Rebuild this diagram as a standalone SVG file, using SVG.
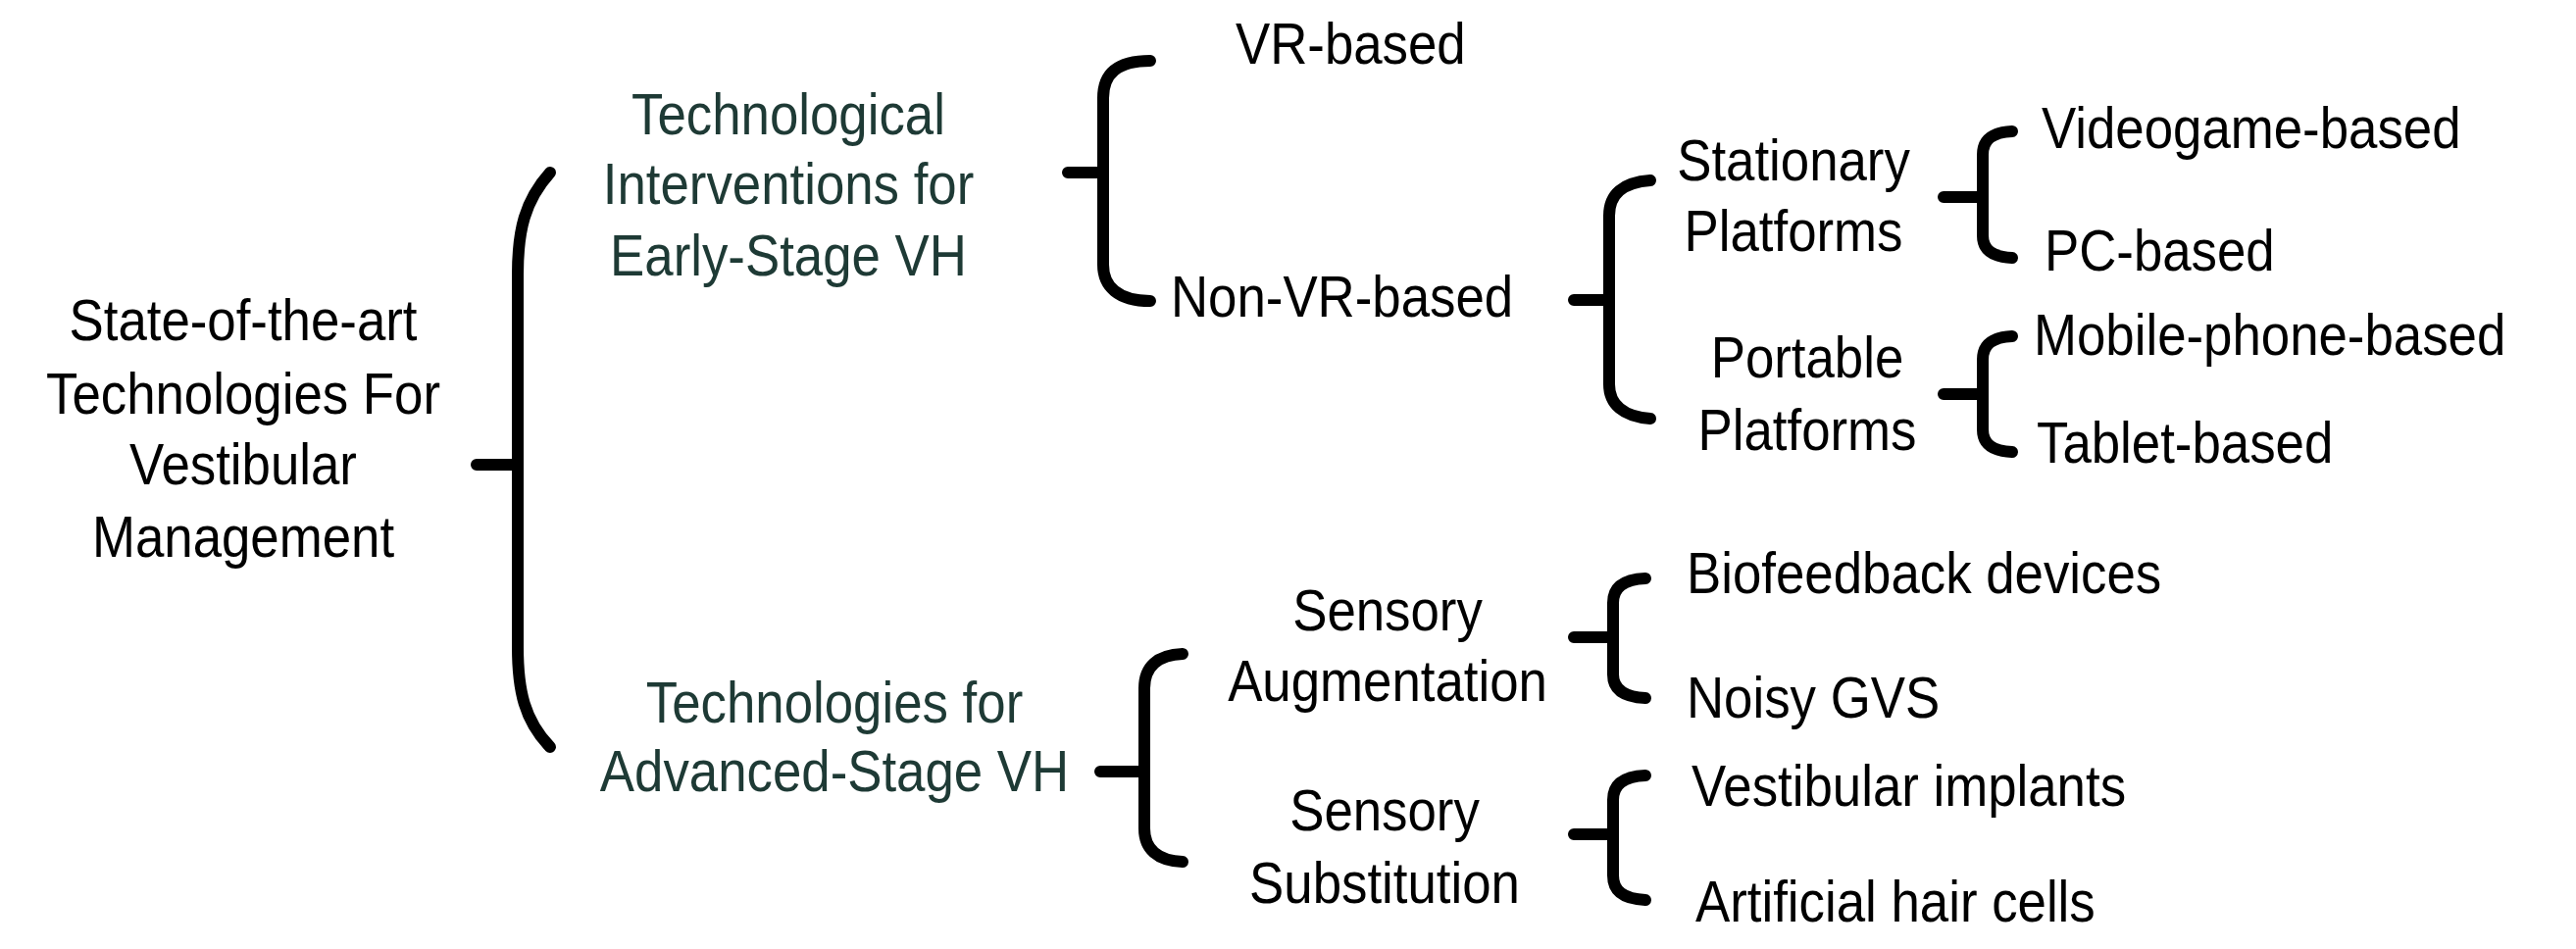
<svg xmlns="http://www.w3.org/2000/svg" width="2627" height="968" viewBox="0 0 2627 968">
<style>
text{font-family:"Liberation Sans",Arial,sans-serif;font-size:60px;fill:#000}
.g{fill:#1e3a35}
.m{text-anchor:middle}
.b{fill:none;stroke:#000;stroke-width:12;stroke-linecap:round;stroke-linejoin:round}
</style>
<rect width="2627" height="968" fill="#fff"/>
<g id="connectors">
<path class="b" d="M561,176 C535,205 528,235 528,280 L528,660 C528,705 535,735 561,762 M486,474 L528,474"/>
<path class="b" d="M1173,62 C1140,62 1125,75 1125,100 L1125,270 C1125,292 1140,307 1173,307 M1089,176 L1125,176"/>
<path class="b" d="M1683,184 C1655,186 1641,198 1641,220 L1641,392 C1641,412 1655,425 1683,427 M1605,306 L1641,306"/>
<path class="b" d="M2052,134 C2032,135 2022,142 2022,158 L2022,240 C2022,255 2032,262 2052,263 M1982,201 L2022,201"/>
<path class="b" d="M2052,343 C2032,344 2022,351 2022,367 L2022,438 C2022,453 2032,460 2052,461 M1982,402 L2022,402"/>
<path class="b" d="M1206,667 C1180,668 1167,680 1167,702 L1167,845 C1167,866 1180,878 1206,879 M1122,787 L1167,787"/>
<path class="b" d="M1678,590 C1656,591 1645,599 1645,615 L1645,688 C1645,703 1656,711 1678,712 M1605,650 L1645,650"/>
<path class="b" d="M1678,791 C1656,792 1645,800 1645,816 L1645,893 C1645,909 1656,917 1678,918 M1605,851 L1645,851"/>
</g>
<g id="root">
<text class="m" transform="translate(248,347) scale(0.88,1)">State-of-the-art</text>
<text class="m" transform="translate(248,422) scale(0.88,1)">Technologies For</text>
<text class="m" transform="translate(248,494) scale(0.88,1)">Vestibular</text>
<text class="m" transform="translate(248,568) scale(0.88,1)">Management</text>
</g>
<g id="early">
<text class="m g" transform="translate(804,137) scale(0.88,1)">Technological</text>
<text class="m g" transform="translate(804,208) scale(0.88,1)">Interventions for</text>
<text class="m g" transform="translate(804,281) scale(0.88,1)">Early-Stage VH</text>
</g>
<g id="advanced">
<text class="m g" transform="translate(851,737) scale(0.88,1)">Technologies for</text>
<text class="m g" transform="translate(851,807) scale(0.88,1)">Advanced-Stage VH</text>
</g>
<g id="vr"><text transform="translate(1260,65) scale(0.88,1)">VR-based</text></g>
<g id="nonvr"><text transform="translate(1194,323) scale(0.88,1)">Non-VR-based</text></g>
<g id="stationary">
<text class="m" transform="translate(1829,184) scale(0.88,1)">Stationary</text>
<text class="m" transform="translate(1829,256) scale(0.88,1)">Platforms</text>
</g>
<g id="portable">
<text class="m" transform="translate(1843,385) scale(0.88,1)">Portable</text>
<text class="m" transform="translate(1843,459) scale(0.88,1)">Platforms</text>
</g>
<g id="videogame"><text transform="translate(2082,151) scale(0.88,1)">Videogame-based</text></g>
<g id="pc"><text transform="translate(2085,276) scale(0.88,1)">PC-based</text></g>
<g id="mobile"><text transform="translate(2074,362) scale(0.88,1)">Mobile-phone-based</text></g>
<g id="tablet"><text transform="translate(2077,472) scale(0.88,1)">Tablet-based</text></g>
<g id="augmentation">
<text class="m" transform="translate(1415,643) scale(0.88,1)">Sensory</text>
<text class="m" transform="translate(1415,715) scale(0.88,1)">Augmentation</text>
</g>
<g id="substitution">
<text class="m" transform="translate(1412,847) scale(0.88,1)">Sensory</text>
<text class="m" transform="translate(1412,921) scale(0.88,1)">Substitution</text>
</g>
<g id="biofeedback"><text transform="translate(1720,605) scale(0.88,1)">Biofeedback devices</text></g>
<g id="gvs"><text transform="translate(1720,732) scale(0.88,1)">Noisy GVS</text></g>
<g id="implants"><text transform="translate(1725,822) scale(0.88,1)">Vestibular implants</text></g>
<g id="hair"><text transform="translate(1729,940) scale(0.88,1)">Artificial hair cells</text></g>
</svg>
